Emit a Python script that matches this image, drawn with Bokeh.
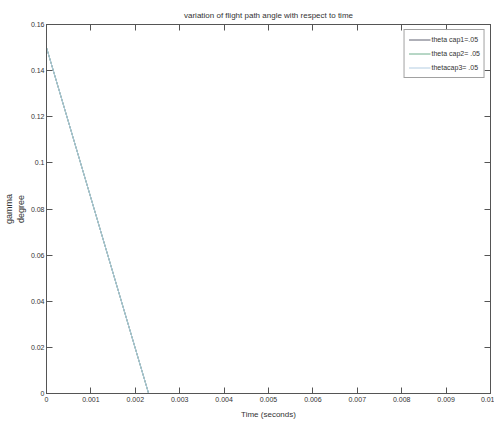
from bokeh.plotting import figure
from bokeh.models import Range1d, FixedTicker, Legend, LegendItem, LinearAxis, CustomJSTickFormatter
from bokeh.embed import file_html
from bokeh.resources import INLINE

time_s = [0.0, 0.0023, 0.01]
gamma_cap1 = [0.15, 0.0, 0.0]
gamma_cap2 = [0.15, 0.0, 0.0]
gamma_cap3 = [0.15, 0.0, 0.0]
series_names = ["theta cap1=.05", "theta cap2= .05", "thetacap3= .05"]
series_colors = ["#5f6070", "#6fae8c", "#b3cde2"]
x_ticks = [0, 0.001, 0.002, 0.003, 0.004, 0.005, 0.006, 0.007, 0.008, 0.009, 0.01]
x_labels = ["0", "0.001", "0.002", "0.003", "0.004", "0.005", "0.006", "0.007", "0.008", "0.009", "0.01"]
y_ticks = [0, 0.02, 0.04, 0.06, 0.08, 0.1, 0.12, 0.14, 0.16]
y_labels = ["0", "0.02", "0.04", "0.06", "0.08", "0.1", "0.12", "0.14", "0.16"]

FONT = "Liberation Sans"

p = figure(width=494, height=425, output_backend="svg", toolbar_location=None,
           x_range=Range1d(0, 0.01), y_range=Range1d(0, 0.16),
           min_border_left=43, min_border_right=4, min_border_top=24, min_border_bottom=32)
p.background_fill_color = "white"
p.border_fill_color = "white"
p.outline_line_color = "#555555"
p.outline_line_width = 1
p.grid.visible = False

p.title.text = "variation of flight path angle with respect to time"
p.title.text_font = FONT
p.title.text_font_size = "8px"
p.title.text_font_style = "normal"
p.title.text_color = "#333333"
p.title.align = "center"
p.title.standoff = 9

renderers = []
for ys, c in zip([gamma_cap1, gamma_cap2, gamma_cap3], series_colors):
    r = p.line(time_s, ys, line_color=c, line_width=1)
    renderers.append(r)

legend = Legend(items=[LegendItem(label=n, renderers=[r]) for n, r in zip(series_names, renderers)],
                location="top_right")
legend.label_text_font = FONT
legend.label_text_font_size = "7px"
legend.label_text_color = "#333333"
legend.border_line_color = "#444444"
legend.border_line_width = 1
legend.glyph_width = 22
legend.glyph_height = 11
legend.label_height = 11
legend.spacing = 3
legend.padding = 4
legend.margin = 5
legend.label_standoff = 1
p.add_layout(legend)

for ax, ticks, labels in [(p.xaxis[0], x_ticks, x_labels), (p.yaxis[0], y_ticks, y_labels)]:
    ax.ticker = FixedTicker(ticks=ticks)
    ax.major_label_overrides = {t: l for t, l in zip(ticks, labels)}
    ax.major_tick_in = 6
    ax.major_tick_out = 0
    ax.minor_tick_in = 0
    ax.minor_tick_out = 0
    ax.axis_line_color = "#555555"
    ax.major_tick_line_color = "#555555"
    ax.major_label_text_font = FONT
    ax.major_label_text_font_size = "7px"
    ax.major_label_text_color = "#333333"
    ax.axis_label_text_font = FONT
    ax.axis_label_text_font_size = "8px"
    ax.axis_label_text_font_style = "normal"
    ax.axis_label_text_color = "#333333"

p.xaxis.axis_label = "Time (seconds)"
p.xaxis.axis_label_standoff = 5
p.xaxis.major_label_standoff = 3
p.yaxis.axis_label = "gamma\ndegree"
p.yaxis.axis_label_text_font_size = "9px"
p.yaxis.axis_label_standoff = 2
p.yaxis.major_label_standoff = 2

blank = CustomJSTickFormatter(code="return ''")
top_ax = LinearAxis(ticker=FixedTicker(ticks=x_ticks), formatter=blank,
                    major_tick_in=6, major_tick_out=0, minor_tick_in=0, minor_tick_out=0,
                    major_label_standoff=0,
                    axis_line_color="#555555", major_tick_line_color="#555555")
p.add_layout(top_ax, "above")
right_ax = LinearAxis(ticker=FixedTicker(ticks=y_ticks), formatter=blank,
                      major_tick_in=6, major_tick_out=0, minor_tick_in=0, minor_tick_out=0,
                      major_label_standoff=0,
                      axis_line_color="#555555", major_tick_line_color="#555555")
p.add_layout(right_ax, "right")

open("out.html", "w").write(file_html(p, INLINE))
